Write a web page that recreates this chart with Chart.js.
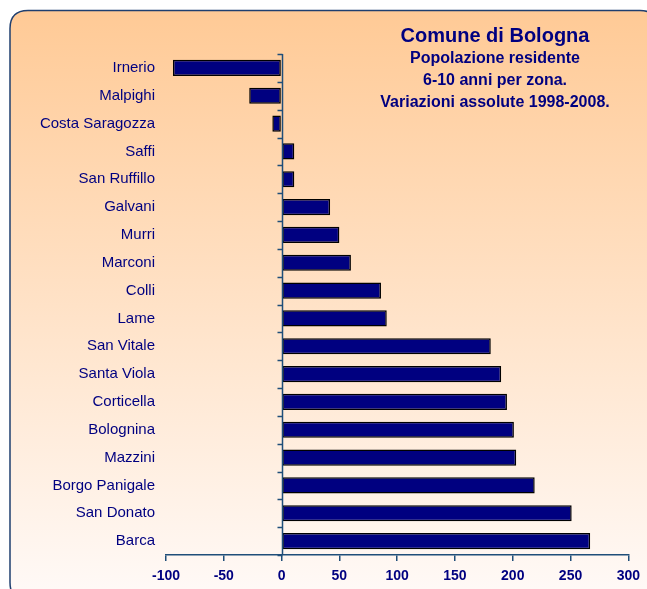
<!DOCTYPE html>
<html>
<head>
<meta charset="utf-8">
<script src="https://cdn.jsdelivr.net/npm/chart.js@4"></script>
<style>
  html, body { margin: 0; padding: 0; background: #fff; }
  #wrap { width: 647px; height: 589px; }
</style>
</head>
<body>
<div id="wrap"><canvas id="myChart" width="647" height="589"></canvas></div>
<script>
// data
const zones = ['Irnerio', 'Malpighi', 'Costa Saragozza', 'Saffi', 'San Ruffillo', 'Galvani', 'Murri',
  'Marconi', 'Colli', 'Lame', 'San Vitale', 'Santa Viola', 'Corticella', 'Bolognina', 'Mazzini',
  'Borgo Panigale', 'San Donato', 'Barca'];
const variazioni = [-94, -28, -8, 11, 11, 42, 50, 60, 86, 91, 181, 190, 195, 201, 203, 219, 251, 267];
const titleLines = ['Comune di Bologna', 'Popolazione residente', '6-10 anni per zona.', 'Variazioni assolute 1998-2008.'];

const navy = '#000080';
const axisColor = '#1f4e79';

const panel = {
  id: 'panel',
  beforeDraw(chart) {
    const c = chart.ctx;
    const x = 10, y = 10.5, w = 648, h = 590, r = 18;
    c.save();
    const g = c.createLinearGradient(0, y, 0, y + h);
    g.addColorStop(0, '#ffca96');
    g.addColorStop(1, '#fffaf8');
    c.beginPath();
    c.moveTo(x + r, y);
    c.lineTo(x + w - r, y);
    c.quadraticCurveTo(x + w, y, x + w, y + r);
    c.lineTo(x + w, y + h - r);
    c.quadraticCurveTo(x + w, y + h, x + w - r, y + h);
    c.lineTo(x + r, y + h);
    c.quadraticCurveTo(x, y + h, x, y + h - r);
    c.lineTo(x, y + r);
    c.quadraticCurveTo(x, y, x + r, y);
    c.closePath();
    c.fillStyle = g;
    c.fill();
    c.strokeStyle = '#1f3f6f';
    c.lineWidth = 1.5;
    c.stroke();
    c.restore();
  },
  afterDatasetsDraw(chart) {
    const c = chart.ctx;
    const xs = chart.scales.x, ys = chart.scales.y;
    const x0 = Math.round(xs.getPixelForValue(0)) + 0.5;
    c.save();
    c.strokeStyle = axisColor;
    c.lineWidth = 1.5;
    c.beginPath();
    c.moveTo(x0, chart.chartArea.top);
    c.lineTo(x0, chart.chartArea.bottom);
    // small ticks on the category boundaries
    const step = (ys.getPixelForValue(1) - ys.getPixelForValue(0));
    for (let i = 0; i <= zones.length; i++) {
      const py = Math.round(ys.getPixelForValue(i) - step / 2) + 0.5;
      c.moveTo(x0 - 5, py);
      c.lineTo(x0, py);
    }
    c.stroke();
    // title
    c.fillStyle = navy;
    c.textAlign = 'center';
    c.textBaseline = 'middle';
    c.font = 'bold 20px "Liberation Sans", Arial, sans-serif';
    c.fillText(titleLines[0], 495, 36);
    c.font = 'bold 16px "Liberation Sans", Arial, sans-serif';
    c.fillText(titleLines[1], 495, 59);
    c.fillText(titleLines[2], 495, 81);
    c.fillText(titleLines[3], 495, 103);
    c.restore();
  }
};

new Chart(document.getElementById('myChart'), {
  type: 'bar',
  data: {
    labels: zones,
    datasets: [{
      label: 'Variazioni',
      data: variazioni,
      backgroundColor: navy,
      borderColor: '#000',
      borderWidth: 1.5,
      borderSkipped: false,
      barPercentage: 0.58,
      categoryPercentage: 1
    }]
  },
  options: {
    indexAxis: 'y',
    responsive: false,
    animation: false,
    layout: { padding: { top: 54, right: 18, left: 0, bottom: 0 } },
    plugins: {
      legend: { display: false },
      title: { display: false },
      tooltip: { enabled: false }
    },
    scales: {
      x: {
        min: -100,
        max: 300,
        ticks: {
          stepSize: 50,
          color: navy,
          padding: 7,
          font: { family: '"Liberation Sans", Arial, sans-serif', size: 14, weight: 'bold' }
        },
        grid: { drawOnChartArea: false, drawTicks: true, tickLength: 6, color: axisColor, lineWidth: 1.5 },
        border: { display: true, color: axisColor, width: 1.5 },
        afterFit(scale) { scale.height = 34; }
      },
      y: {
        ticks: {
          color: navy,
          padding: 11,
          font: { family: '"Liberation Sans", Arial, sans-serif', size: 15 }
        },
        grid: { display: false, drawTicks: false },
        border: { display: false },
        afterFit(scale) { scale.width = 166; }
      }
    }
  },
  plugins: [panel]
});
</script>
</body>
</html>
